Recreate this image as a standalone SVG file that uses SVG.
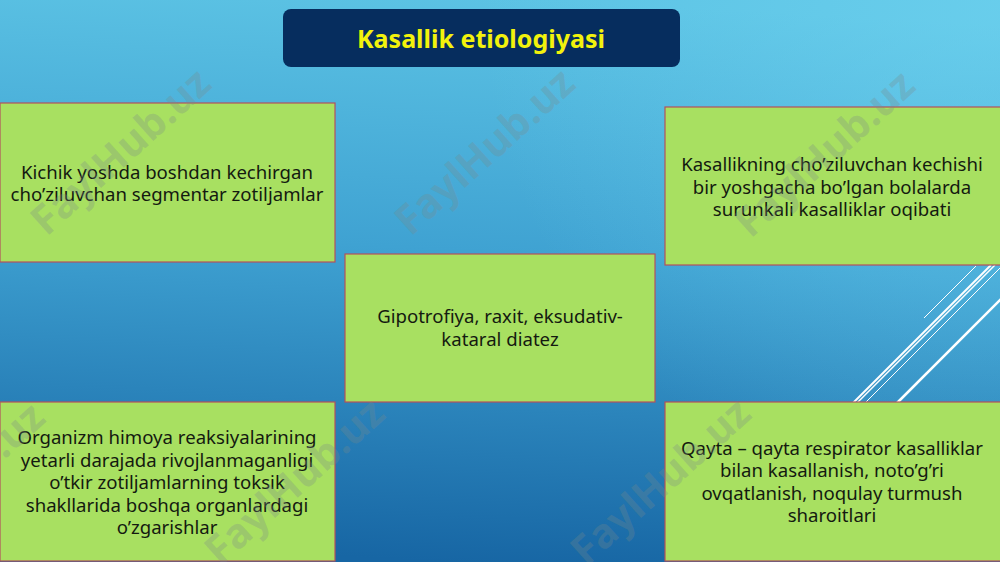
<svg xmlns="http://www.w3.org/2000/svg" width="1000" height="562" viewBox="0 0 1000 562">
<defs>
<linearGradient id="bg" x1="0.55" y1="0" x2="0.45" y2="1">
<stop offset="0" stop-color="#5cc3e4"/>
<stop offset="0.45" stop-color="#3fa2d2"/>
<stop offset="1" stop-color="#1766a4"/>
</linearGradient>
<radialGradient id="glow" cx="1000" cy="0" r="520" gradientUnits="userSpaceOnUse">
<stop offset="0" stop-color="#72d6f2" stop-opacity="0.55"/>
<stop offset="1" stop-color="#72d6f2" stop-opacity="0"/>
</radialGradient>
</defs>
<style>
.box{fill:#a8e061;stroke:#b4515c;stroke-width:1.2}
.t{font-family:"Noto Sans","Open Sans","Liberation Sans",sans-serif;font-size:18.6px;fill:#141a10;text-anchor:middle}
.title{font-family:"Noto Sans","Open Sans","Liberation Sans",sans-serif;font-size:25px;font-weight:bold;fill:#f2f20c;text-anchor:middle}
.wm{font-family:"Noto Sans","Open Sans","Liberation Sans",sans-serif;font-size:41px;font-weight:bold;fill:#7a8a8a;fill-opacity:0.28;text-anchor:middle}
.ln{stroke:#ffffff;fill:none}
</style>
<rect width="1000" height="562" fill="url(#bg)"/>
<rect width="1000" height="562" fill="url(#glow)"/>
<g id="decor-lines">
<line class="ln" x1="924" y1="318" x2="976" y2="266" stroke-width="1"/>
<line class="ln" x1="846" y1="410" x2="991" y2="265" stroke-width="2"/>
<line class="ln" x1="850" y1="410" x2="995" y2="265" stroke-width="1.5"/>
<line class="ln" x1="858" y1="410" x2="1003" y2="265" stroke-width="1"/>
<line class="ln" x1="890" y1="410" x2="1010" y2="290" stroke-width="2.5"/>
</g>
<g id="title">
<rect x="283" y="9" width="397" height="58" rx="8" fill="#062d5e"/>
<text class="title" x="481" y="48">Kasallik etiologiyasi</text>
</g>
<g id="connectors"></g>
<g id="node-1">
<rect class="box" x="0" y="103" width="335" height="159"/>
<text class="t" x="167" y="179">Kichik yoshda boshdan kechirgan</text>
<text class="t" x="167" y="201">cho’ziluvchan segmentar zotiljamlar</text>
</g>
<g id="node-2">
<rect class="box" x="665" y="107" width="336" height="158"/>
<text class="t" x="832" y="171">Kasallikning cho’ziluvchan kechishi</text>
<text class="t" x="832" y="194">bir yoshgacha bo’lgan bolalarda</text>
<text class="t" x="832" y="216">surunkali kasalliklar oqibati</text>
</g>
<g id="node-3">
<rect class="box" x="345" y="254" width="310" height="148"/>
<text class="t" x="500" y="323">Gipotrofiya, raxit, eksudativ-</text>
<text class="t" x="500" y="346">kataral diatez</text>
</g>
<g id="node-4">
<rect class="box" x="0" y="402" width="335" height="159"/>
<text class="t" x="167" y="444">Organizm himoya reaksiyalarining</text>
<text class="t" x="167" y="467">yetarli darajada rivojlanmaganligi</text>
<text class="t" x="167" y="489">o’tkir zotiljamlarning toksik</text>
<text class="t" x="167" y="512">shakllarida boshqa organlardagi</text>
<text class="t" x="167" y="534">o’zgarishlar</text>
</g>
<g id="node-5">
<rect class="box" x="665" y="402" width="336" height="159"/>
<text class="t" x="832" y="455">Qayta – qayta respirator kasalliklar</text>
<text class="t" x="832" y="477">bilan kasallanish, noto’g’ri</text>
<text class="t" x="832" y="500">ovqatlanish, noqulay turmush</text>
<text class="t" x="832" y="522">sharoitlari</text>
</g>
<g id="watermarks">
<text class="wm" transform="translate(130,162) rotate(-42)">FaylHub.uz</text>
<text class="wm" transform="translate(494,162) rotate(-42)">FaylHub.uz</text>
<text class="wm" transform="translate(834,164) rotate(-42)">FaylHub.uz</text>
<text class="wm" transform="translate(-36,496) rotate(-42)">FaylHub.uz</text>
<text class="wm" transform="translate(304,492) rotate(-42)">FaylHub.uz</text>
<text class="wm" transform="translate(670,492) rotate(-42)">FaylHub.uz</text>
</g>
</svg>
